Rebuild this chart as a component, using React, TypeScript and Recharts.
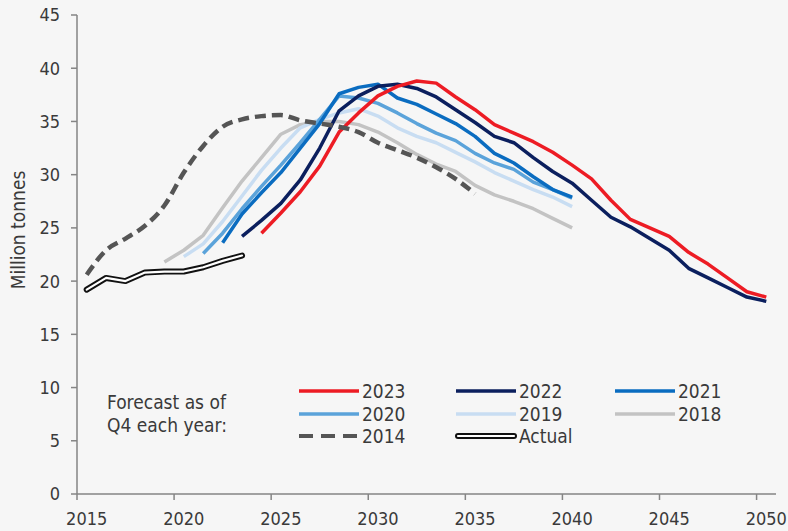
import React from "react";
import { LineChart, Line, XAxis, YAxis } from "recharts";

// années du graphique (axe catégoriel façon Excel : points au milieu de chaque année)
const years = [
  2015, 2016, 2017, 2018, 2019, 2020, 2021, 2022, 2023, 2024, 2025, 2026,
  2027, 2028, 2029, 2030, 2031, 2032, 2033, 2034, 2035, 2036, 2037, 2038,
  2039, 2040, 2041, 2042, 2043, 2044, 2045, 2046, 2047, 2048, 2049, 2050,
];
const xTicks = [2015, 2020, 2025, 2030, 2035, 2040, 2045, 2050];
const yTicks = [0, 5, 10, 15, 20, 25, 30, 35, 40, 45];

// valeurs, en millions de tonnes
const actualStart = 2015;
const actual = [19.2, 20.3, 20.0, 20.8, 20.9, 20.9, 21.3, 21.9, 22.4];

const f2014Start = 2015;
const f2014 = [
  20.6, 22.9, 24.0, 25.2, 27.1, 30.2, 32.7, 34.5, 35.2, 35.5, 35.6, 35.1,
  34.8, 34.5, 34.0, 33.0, 32.3, 31.6, 30.7, 29.6, 28.2,
];

const f2018Start = 2019;
const f2018 = [
  21.8, 22.9, 24.3, 26.9, 29.4, 31.6, 33.8, 34.7, 35.0, 35.0, 34.7, 34.0,
  33.0, 31.9, 31.0, 30.3, 29.0, 28.1, 27.5, 26.8, 25.9, 25.0,
];

const f2019Start = 2020;
const f2019 = [
  22.3, 23.5, 25.6, 28.0, 30.4, 32.5, 34.4, 35.2, 35.8, 36.2, 35.5, 34.4,
  33.6, 33.0, 32.1, 31.2, 30.2, 29.4, 28.6, 27.9, 27.0,
];

const f2020Start = 2021;
const f2020 = [
  22.6, 24.5, 26.8, 28.9, 30.9, 33.0, 35.2, 37.4, 37.2, 36.7, 35.8, 34.8,
  33.9, 33.2, 32.0, 31.1, 30.5, 29.3, 28.6, 27.8,
];

const f2021Start = 2022;
const f2021 = [
  23.6, 26.3, 28.3, 30.2, 32.5, 34.8, 37.6, 38.2, 38.5, 37.2, 36.6, 35.7,
  34.8, 33.6, 32.0, 31.1, 29.8, 28.6, 27.9,
];

const f2022Start = 2023;
const f2022 = [
  24.2, 25.7, 27.3, 29.5, 32.5, 36.0, 37.4, 38.3, 38.5, 38.1, 37.3, 36.1,
  34.9, 33.6, 33.0, 31.6, 30.3, 29.2, 27.6, 26.0, 25.1, 24.0, 22.9, 21.2,
  20.3, 19.4, 18.5, 18.1,
];

const f2023Start = 2024;
const f2023 = [
  24.5, 26.4, 28.4, 30.8, 34.0, 35.8, 37.4, 38.3, 38.8, 38.6, 37.3, 36.1,
  34.7, 33.9, 33.1, 32.1, 30.9, 29.6, 27.6, 25.8, 25.0, 24.2, 22.7, 21.6,
  20.3, 19.0, 18.5,
];

const seriesData: Record<string, { start: number; values: number[] }> = {
  f2018: { start: f2018Start, values: f2018 },
  f2019: { start: f2019Start, values: f2019 },
  f2020: { start: f2020Start, values: f2020 },
  f2021: { start: f2021Start, values: f2021 },
  f2022: { start: f2022Start, values: f2022 },
  f2023: { start: f2023Start, values: f2023 },
  f2014: { start: f2014Start, values: f2014 },
  actual: { start: actualStart, values: actual },
};

const data = years.map((year) => {
  const row: any = { x: year + 0.5 };
  Object.keys(seriesData).forEach((k) => {
    const s = seriesData[k];
    const v = s.values[year - s.start];
    row[k] = v === undefined ? null : v;
  });
  return row;
});

const styles: Record<string, { color: string; dash?: string }> = {
  f2023: { color: "#ed1c24" },
  f2022: { color: "#0b1f5e" },
  f2021: { color: "#0a6cc0" },
  f2020: { color: "#5ba3da" },
  f2019: { color: "#c8ddf2" },
  f2018: { color: "#c3c3c3" },
  f2014: { color: "#555555", dash: "11 6" },
};

const W = 788;
const H = 531;
const M = { top: 15, right: 12, left: 0, bottom: 0 };
const Y_W = 77;
const X_H = 37;
const HALF = (W - M.right - Y_W) / 36 / 2;

const FONT = "'Liberation Sans Narrow', 'DejaVu Sans Condensed', 'Liberation Sans', sans-serif";
const TXT = "#3a3a3a";
const AXIS = "#858585";

const XTick = (props: any) => {
  const { x, y, payload } = props;
  return (
    <text x={x + HALF} y={y} dy="0.71em" textAnchor="middle" fill={TXT} fontSize={18} fontFamily={FONT}>
      {payload.value}
    </text>
  );
};

const legendRows = [
  [
    { key: "f2023", label: "2023" },
    { key: "f2022", label: "2022" },
    { key: "f2021", label: "2021" },
  ],
  [
    { key: "f2020", label: "2020" },
    { key: "f2019", label: "2019" },
    { key: "f2018", label: "2018" },
  ],
  [
    { key: "f2014", label: "2014" },
    { key: "actual", label: "Actual" },
  ],
];
const legendCols = [298, 455, 614];
const legendYs = [391, 414, 436];

function Legend() {
  return (
    <>
      <div
        style={{
          position: "absolute",
          left: 107,
          top: 391,
          fontFamily: FONT,
          fontSize: 19,
          lineHeight: "23px",
          color: TXT,
        }}
      >
        Forecast as of
        <br />
        Q4 each year:
      </div>
      {legendRows.map((row, r) =>
        row.map((item, c) => (
          <div
            key={item.key}
            style={{ position: "absolute", left: legendCols[c], top: legendYs[r] - 12, height: 24, display: "flex", alignItems: "center" }}
          >
            <svg width={62} height={24}>
              {item.key === "actual" ? (
                <>
                  <line x1={3} y1={12} x2={59} y2={12} stroke="#111" strokeWidth={6} strokeLinecap="round" />
                  <line x1={3} y1={12} x2={59} y2={12} stroke="#fff" strokeWidth={2.2} strokeLinecap="round" />
                </>
              ) : (
                <line
                  x1={1}
                  y1={12}
                  x2={61}
                  y2={12}
                  stroke={styles[item.key].color}
                  strokeWidth={styles[item.key].dash ? 4 : 3.5}
                  strokeDasharray={styles[item.key].dash ? "14 8" : undefined}
                />
              )}
            </svg>
            <span style={{ marginLeft: 2, fontFamily: FONT, fontSize: 19, color: TXT }}>{item.label}</span>
          </div>
        ))
      )}
    </>
  );
}

export default function App() {
  const order = ["f2018", "f2019", "f2020", "f2021", "f2022", "f2023", "f2014"];
  return (
    <div style={{ position: "relative", width: W, height: H, background: "#f6f6f6" }}>
      <style>{"body{margin:0;background:#f6f6f6}"}</style>
      <LineChart width={W} height={H} data={data} margin={M}>
        <XAxis
          dataKey="x"
          type="number"
          domain={[2015, 2051]}
          ticks={xTicks}
          interval={0}
          height={X_H}
          tick={<XTick />}
          tickSize={6}
          tickMargin={12}
          stroke={AXIS}
          strokeWidth={1.5}
        />
        <YAxis
          type="number"
          domain={[0, 45]}
          ticks={yTicks}
          interval={0}
          width={Y_W}
          tickSize={6}
          tickMargin={11}
          stroke={AXIS}
          strokeWidth={1.5}
          tick={{ fill: TXT, fontSize: 18, fontFamily: FONT }}
        />
        {order.map((k) => (
          <Line
            key={k}
            dataKey={k}
            // la prévision 2014 est lissée, les autres sont des segments droits
            type={styles[k].dash ? "monotone" : "linear"}
            stroke={styles[k].color}
            strokeWidth={styles[k].dash ? 4.5 : 3.5}
            strokeDasharray={styles[k].dash}
            strokeLinejoin="round"
            dot={false}
            activeDot={false}
            isAnimationActive={false}
          />
        ))}
        <Line dataKey="actual" stroke="#111" strokeWidth={6} strokeLinecap="round" strokeLinejoin="round" dot={false} activeDot={false} isAnimationActive={false} />
        <Line dataKey="actual" stroke="#fff" strokeWidth={2.2} strokeLinecap="round" strokeLinejoin="round" dot={false} activeDot={false} isAnimationActive={false} />
      </LineChart>
      <div
        style={{
          position: "absolute",
          left: 18,
          top: 230,
          transform: "translate(-50%, -50%) rotate(-90deg)",
          whiteSpace: "nowrap",
          fontFamily: FONT,
          fontSize: 19,
          color: TXT,
        }}
      >
        Million tonnes
      </div>
      <Legend />
    </div>
  );
}
